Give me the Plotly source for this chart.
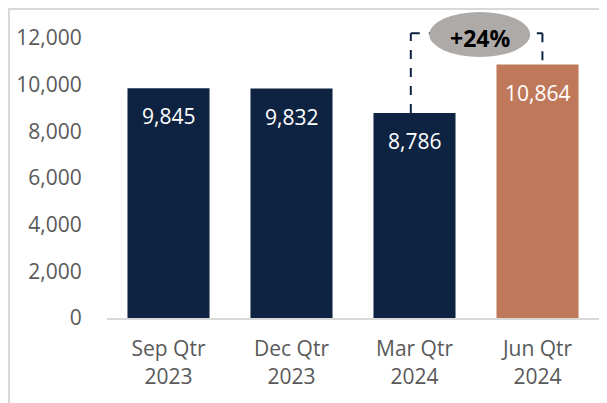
import plotly.graph_objects as go

categories = ["Sep Qtr<br>2023", "Dec Qtr<br>2023", "Mar Qtr<br>2024", "Jun Qtr<br>2024"]
values = [9845, 9832, 8786, 10864]
bar_colors = ["#0E2341", "#0E2341", "#0E2341", "#C0785A"]
tick_vals = [0, 2000, 4000, 6000, 8000, 10000, 12000]
tick_text = ["0", "2,000", "4,000", "6,000", "8,000", "10,000", "12,000"]
connector_level = 12200

FONT = "Open Sans"
GREY = "#595959"

fig = go.Figure(go.Bar(
    x=categories, y=values, marker_color=bar_colors, marker_line_width=0,
    hoverinfo="skip",
))

annotations = []
for c, v in zip(categories, values):
    annotations.append(dict(x=c, y=v, xref="x", yref="y", text=f"{v:,}",
                            showarrow=False, yanchor="top", yshift=-12,
                            font=dict(family=FONT, size=21, color="white")))

i_from, i_to = 2, 3
pct = round((values[i_to] / values[i_from] - 1) * 100)
xa = i_from - 0.03
xb = i_to + 0.04
xm = (i_from + i_to) / 2 + 0.03
line = dict(color="#0E2341", width=2, dash="dash")
shapes = [
    dict(type="line", xref="x", yref="y", x0=xa, x1=xa, y0=values[i_from], y1=connector_level, line=line),
    dict(type="line", xref="x", yref="y", x0=xa, x1=xb, y0=connector_level, y1=connector_level, line=line),
    dict(type="line", xref="x", yref="y", x0=xb, x1=xb, y0=connector_level, y1=values[i_to], line=line),
    dict(type="circle", xref="x", yref="y", x0=xm - 0.41, x1=xm + 0.41,
         y0=connector_level - 50 - 964, y1=connector_level - 50 + 964,
         fillcolor="#ADAAA8", line=dict(width=0)),
    dict(type="path", xref="paper", yref="paper",
         path="M -0.1992,-0.4 L -0.1992,0.9968 L 1.2,0.9968",
         line=dict(color="#D9D9D9", width=2)),
]
annotations.append(dict(x=xm, y=connector_level - 50, xref="x", yref="y", text=f"<b>+{pct}%</b>",
                        showarrow=False, yshift=-3,
                        font=dict(family=FONT, size=23, color="black")))

fig.update_layout(
    width=599, height=395,
    margin=dict(l=99, r=8, t=0, b=85),
    paper_bgcolor="white", plot_bgcolor="white",
    bargap=0.333, showlegend=False,
    shapes=shapes, annotations=annotations,
    font=dict(family=FONT, size=21, color=GREY),
)
fig.update_xaxes(showline=True, linecolor="#D9D9D9", linewidth=2, showgrid=False,
                 tickfont=dict(family=FONT, size=21, color=GREY),
                 ticks="outside", ticklen=11, tickcolor="rgba(0,0,0,0)")
fig.update_yaxes(range=[0, 13286], tickvals=tick_vals, ticktext=tick_text,
                 showgrid=False, zeroline=False, showline=False,
                 ticks="outside", ticklen=20, tickcolor="rgba(0,0,0,0)",
                 tickfont=dict(family=FONT, size=21, color=GREY))

fig.write_html("out.html")
